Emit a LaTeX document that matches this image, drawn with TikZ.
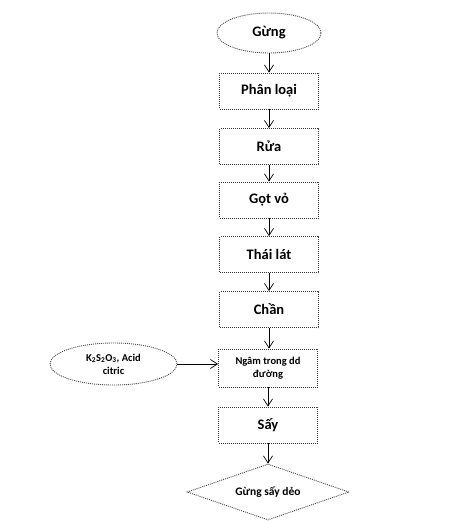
\documentclass[tikz,border=0pt]{standalone}
\usepackage{fontspec}
\setmainfont{Carlito}
\usetikzlibrary{shapes.geometric,arrows.meta}
\begin{document}
\begin{tikzpicture}[x=1pt,y=-1pt,
  dotline/.style={draw=black!80,dash pattern=on 1pt off 1pt,line width=0.9pt},
  box/.style={dotline,minimum width=99pt,minimum height=36pt,inner sep=1pt,font=\fontsize{14.5}{16}\selectfont\bfseries,align=center},
  oval/.style={ellipse,dotline,draw=black!70,inner sep=0pt,align=center},
  dia/.style={diamond,dotline,draw=black!70,aspect=2.9,inner sep=0pt,minimum width=162pt,minimum height=56pt,font=\fontsize{11.5}{13}\selectfont\bfseries},
  arr/.style={draw=black,line width=0.8pt,-{Straight Barb[length=7pt,width=9pt,line width=0.7pt]}}]
\useasboundingbox (0,0) rectangle (452,528);
\fill[white] (0,0) rectangle (452,528);
\node[oval,minimum width=104pt,minimum height=40pt,font=\fontsize{14.5}{16}\selectfont\bfseries] (g) at (269,33) {Gừng};
\node[box] (b1) at (269,91) {Phân loại};
\node[box] (b2) at (269,146.5) {Rửa};
\node[box] (b3) at (269,200) {Gọt vỏ};
\node[box] (b4) at (269,254.5) {Thái lát};
\node[box] (b5) at (269,309.5) {Chần};
\node[box,minimum height=38pt,font=\fontsize{10.5}{13}\selectfont\bfseries] (b6) at (268,368) {Ngâm trong dd\\đường};
\node[box] (b7) at (268,425) {Sấy};
\node[dia] (d) at (268,492) {Gừng sấy dẻo};
\node[oval,minimum width=127pt,minimum height=42pt,font=\fontsize{10.5}{13}\selectfont\bfseries] (e) at (113.5,364) {K\textsubscript{2}S\textsubscript{2}O\textsubscript{3}, Acid\\citric};
\draw[arr] (g.south) -- (b1.north);
\draw[arr] (b1) -- (b2);
\draw[arr] (b2) -- (b3);
\draw[arr] (b3) -- (b4);
\draw[arr] (b4) -- (b5);
\draw[arr] (b5.south) -- (b5.south |- b6.north);
\draw[arr] (b6.south) -- (b6.south |- b7.north);
\draw[arr] (b7.south) -- (d.north);
\draw[arr] (e.east) -- (e.east -| b6.west);
\end{tikzpicture}
\end{document}
